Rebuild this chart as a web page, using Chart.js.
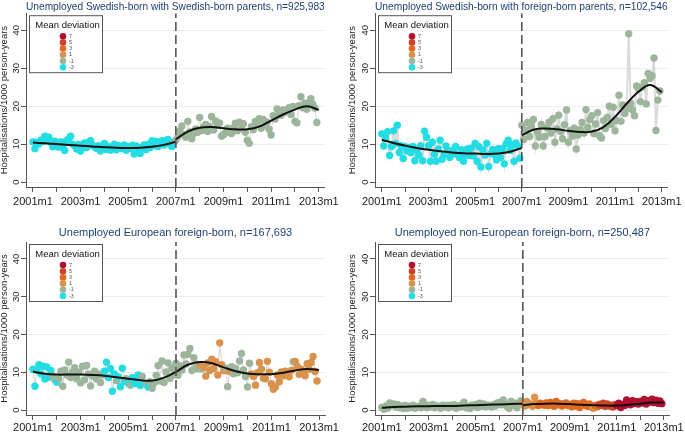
<!DOCTYPE html>
<html>
<head>
<meta charset="utf-8">
<script src="https://cdn.jsdelivr.net/npm/chart.js@4.4.1/dist/chart.umd.min.js"></script>
<style>
  body { margin: 0; background: #fff; width: 685px; height: 432px; overflow: hidden; position: relative; }
  .panel { position: absolute; }
</style>
</head>
<body>
<div class="panel" style="left:0;top:0"><canvas id="c1" width="342" height="216"></canvas></div>
<div class="panel" style="left:343px;top:0"><canvas id="c2" width="342" height="216"></canvas></div>
<div class="panel" style="left:0;top:216px"><canvas id="c3" width="342" height="216"></canvas></div>
<div class="panel" style="left:343px;top:216px"><canvas id="c4" width="342" height="216"></canvas></div>
<script>
// months since 2001m1; labels every 24 months, ticks every 12
const xTickValues = [0, 12, 24, 36, 48, 60, 72, 84, 96, 108, 120, 132, 144];
const xTickLabels = ['2001m1', '', '2003m1', '', '2005m1', '', '2007m1', '', '2009m1', '', '2011m1', '', '2013m1'];
const yTicks = [0, 10, 20, 30, 40];
const breakMonth = 72;

// knots of the fitted curves (every 6 months)
const fitKnotsPre = [0, 6, 12, 18, 24, 30, 36, 42, 48, 54, 60, 66, 72];
const fitKnotsPost = [72, 78, 84, 90, 96, 102, 108, 114, 120, 126, 132, 138, 144];

// mean deviation codes: c=-3 g=-1 t=1 o=3 r=5 m=7
const legendCodes = ['m', 'r', 'o', 't', 'g', 'c'];
const legendLabels = ['7', '5', '3', '1', '-1', '-3'];
const devColors = { c: '#22dde3', g: '#9cb59b', t: '#d9924c', o: '#e0691e', r: '#cc4329', m: '#b30f30' };

// Swedish-born with Swedish-born parents
const title1 = 'Unemployed Swedish-born with Swedish-born parents, n=925,983';
const values1 = [
  10.6, 8.8, 10.5, 10.1, 11.0, 10.7, 12.1, 11.2, 11.8, 10.4, 9.3, 10.8,
  9.5, 9.2, 10.6, 9.4, 8.3, 10.9, 11.4, 12.1, 10.0, 9.6, 8.7, 9.9,
  8.2, 9.4, 10.3, 9.1, 10.5, 10.9, 9.7, 9.3, 8.9, 9.6, 8.2, 9.0,
  10.2, 8.6, 9.4, 8.4, 9.1, 10.0, 8.5, 9.6, 9.2, 8.8, 9.8, 8.4,
  9.3, 8.9, 9.7, 7.4, 9.5, 8.8, 7.5, 9.2, 9.8, 8.6, 9.9, 9.1,
  10.9, 9.6, 10.7, 9.4, 10.4, 10.9, 9.8, 10.2, 11.2, 10.0, 9.4, 10.6,
  11.0, 11.9, 13.5, 14.8, 12.5, 11.8, 16.0, 13.2, 11.4, 12.8, 14.0, 13.1,
  17.0, 13.6, 14.5, 15.2, 13.3, 14.6, 17.3, 13.7, 16.1, 15.0, 15.6, 12.1,
  12.5, 13.0, 14.2, 13.6, 12.8, 14.3, 15.5, 13.5, 15.8, 14.1, 15.4, 13.1,
  11.0, 10.2, 14.6, 13.8, 16.0, 15.3, 16.7, 14.2, 16.5, 15.1, 15.8, 13.9,
  12.4, 17.5, 16.6, 19.3, 18.1, 17.6, 19.0, 18.4, 18.9, 19.6, 17.8, 19.9,
  16.0, 15.6, 20.1, 22.5, 19.6, 20.8, 19.2, 21.0, 22.0, 20.5, 19.5, 15.7
];
const dev1 = ['cccccccccccc', 'cccccccccccc', 'cccccccccccc', 'cccccccccccc', 'cccccccccccc', 'cccccccccccc',
  'gggggggggggg', 'gggggggggggg', 'gggggggggggg', 'gggggggggggg', 'gggggggggggg', 'gggggggggggg'];
const fitPre1 = [10.4, 10.2, 10.0, 9.8, 9.6, 9.4, 9.2, 9.05, 9.0, 9.05, 9.3, 9.8, 10.6];
const fitPost1 = [11.3, 13.3, 14.3, 14.5, 14.2, 13.9, 13.9, 14.6, 16.2, 17.8, 19.1, 20.0, 19.0];

// Swedish-born with foreign-born parents
const title2 = 'Unemployed Swedish-born with foreign-born parents, n=102,546';
const values2 = [
  12.7, 9.5, 11.6, 13.3, 7.0, 9.4, 13.5, 10.2, 15.0, 7.8, 9.6, 6.2,
  9.3, 8.2, 9.1, 7.7, 9.4, 5.6, 8.6, 7.1, 9.6, 5.6, 13.4, 11.8,
  9.6, 5.5, 10.5, 7.3, 5.5, 8.7, 11.0, 6.0, 7.2, 9.5, 8.3, 6.5,
  7.3, 8.6, 9.4, 7.2, 6.4, 8.5, 5.5, 7.2, 8.7, 7.0, 8.9, 6.9,
  10.2, 5.5, 9.3, 4.0, 8.5, 7.1, 10.2, 4.1, 7.5, 8.6, 7.2, 5.8,
  8.8, 6.5, 8.8, 4.8, 10.1, 11.0, 8.3, 9.8, 5.5, 10.3, 9.4, 6.3,
  15.0, 11.2, 13.6, 15.7, 12.0, 14.8, 16.5, 9.5, 13.1, 11.8, 15.2, 9.5,
  12.0, 14.3, 15.8, 12.9, 16.7, 10.5, 14.0, 17.6, 13.3, 11.4, 15.1, 19.0,
  10.5, 13.6, 12.1, 14.2, 8.7, 12.4, 13.8, 15.7, 12.9, 19.1, 14.4, 16.5,
  17.5, 12.8, 15.3, 18.3, 12.2, 11.6, 16.2, 14.1, 17.0, 20.0, 15.2, 19.7,
  13.5, 16.2, 22.9, 16.0, 20.3, 18.1, 19.4, 39.1, 20.7, 19.0, 17.5, 25.3,
  24.6, 21.2, 25.0, 26.2, 20.6, 28.6, 27.3, 28.0, 32.7, 13.6, 21.6, 24.0
];
const dev2 = dev1;
const fitPre2 = [11.1, 10.3, 9.6, 9.0, 8.5, 8.1, 7.8, 7.6, 7.5, 7.4, 7.5, 8.0, 9.0];
const fitPost2 = [12.3, 13.8, 14.1, 13.9, 13.5, 13.2, 13.3, 14.5, 17.2, 20.7, 23.8, 25.6, 23.7];

// European foreign-born
const title3 = 'Unemployed European foreign-born, n=167,693';
const values3 = [
  10.8, 6.3, 10.5, 12.0, 9.6, 11.6, 8.2, 11.4, 8.7, 10.5, 9.0, 8.0,
  7.4, 8.3, 10.3, 6.3, 10.6, 9.3, 12.7, 8.6, 10.1, 11.2, 8.3, 10.0,
  7.2, 11.6, 8.0, 11.8, 9.6, 6.4, 9.0, 10.3, 8.2, 9.6, 7.3, 9.3,
  10.3, 12.7, 8.6, 11.0, 5.0, 9.6, 7.8, 8.8, 6.2, 11.1, 7.6, 8.3,
  7.1, 6.6, 8.6, 7.0, 8.2, 9.3, 6.5, 8.9, 7.0, 6.8, 6.1, 7.5,
  5.8, 7.2, 9.2, 11.8, 7.7, 13.0, 7.3, 10.1, 12.5, 8.4, 11.1, 9.3,
  12.4, 9.2, 11.7, 10.6, 14.6, 12.2, 14.8, 16.3, 10.5, 13.9, 12.2, 10.9,
  11.8, 10.9, 11.3, 9.0, 12.5, 10.5, 13.5, 11.0, 12.8, 9.3, 17.8, 12.0,
  10.4, 11.1, 6.2, 10.2, 11.5, 9.6, 11.0, 9.9, 13.0, 15.0, 10.6, 8.9,
  6.1, 12.4, 9.6, 8.9, 6.6, 9.9, 12.6, 10.8, 8.4, 8.3, 12.9, 10.0,
  7.0, 5.5, 6.1, 9.3, 7.5, 10.1, 9.1, 10.3, 9.2, 8.8, 10.5, 12.8,
  12.9, 11.6, 9.5, 10.8, 10.3, 9.1, 12.3, 10.8, 12.6, 14.2, 10.2, 7.7
];
const dev3 = ['ccccccccccgg', 'cggggggggggg', 'gggggggggggg', 'ccccccgccccg', 'cgcccccgcgcg', 'gggggggggggg',
  'gggggggggggg', 'tgtttttttttt', 'tggtgggggggg', 'ggtttttttttt', 'tttttttttttg', 'tttttttttttt'];
const fitPre3 = [10.2, 9.6, 9.4, 9.4, 9.4, 9.3, 9.1, 8.7, 8.3, 7.9, 7.8, 8.6, 10.1];
const fitPost3 = [10.1, 12.0, 12.7, 12.4, 11.3, 10.3, 9.7, 9.5, 9.5, 9.9, 10.5, 10.9, 10.6];

// non-European foreign-born
const title4 = 'Unemployed non-European foreign-born, n=250,487';
const values4 = [
  0.7, 0.2, 1.0, 0.5, 1.9, 1.3, 1.6, 0.8, 1.5, 0.6, 1.1, 0.4,
  1.2, 0.5, 1.0, 0.7, 1.3, 0.5, 0.9, 1.1, 0.6, 2.3, 1.4, 0.6,
  1.2, 0.9, 1.5, 0.6, 1.1, 1.0, 0.5, 1.3, 0.8, 1.2, 0.6, 1.3,
  0.9, 1.4, 0.5, 1.1, 0.8, 1.5, 2.1, 0.6, 1.0, 0.4, 1.3, 1.0,
  1.5, 0.7, 1.8, 1.1, 1.6, 0.9, 1.3, 1.2, 0.8, 1.4, 1.1, 1.9,
  2.0, 1.4, 2.7, 1.6, 0.9, 0.5, 2.3, 1.3, 1.8, 0.6, 1.6, 2.5,
  1.7, 1.1, 2.3, 1.4, 1.6, 1.0, 3.4, 1.9, 1.2, 1.8, 1.5, 1.3,
  1.9, 1.2, 2.0, 1.5, 1.0, 2.3, 1.4, 1.7, 1.1, 1.6, 1.9, 1.2,
  1.5, 0.9, 1.8, 1.1, 1.7, 0.7, 1.4, 2.0, 1.3, 1.0, 1.6, 0.8,
  0.5, 1.2, 0.9, 1.5, 1.3, 1.8, 1.0, 1.6, 1.1, 1.3, 0.8, 1.4,
  1.2, 1.8, 0.7, 1.5, 1.2, 2.7, 1.9, 1.4, 2.5, 1.8, 2.2, 1.6,
  2.3, 1.9, 2.8, 1.6, 2.5, 2.1, 2.9, 2.0, 2.6, 1.8, 2.4, 1.7
];
const dev4 = ['gggggggggggg', 'gggggggggggg', 'gggggggggggg', 'gggggggggggg', 'gggggggggggg', 'gggggggggggg',
  'ttttttttoooo', 'oooooooooooo', 'oooooooooooo', 'toorrrrrrrrr', 'mmmmmmmmmmmm', 'mmmmmmmmmmmm'];
const fitPre4 = [0.6, 0.8, 0.9, 1.0, 1.0, 1.1, 1.1, 1.2, 1.3, 1.4, 1.5, 1.6, 1.7];
const fitPost4 = [1.3, 1.6, 1.7, 1.7, 1.6, 1.4, 1.3, 1.2, 1.2, 1.4, 1.7, 2.0, 2.0];

const Y_MIN = -1.3, Y_MAX = 44.5;
Chart.defaults.font.family = '"Liberation Sans", Arial, sans-serif';

const devLegend = {
  id: 'devLegend',
  afterDraw(chart) {
    const a = chart.chartArea, c = chart.ctx;
    const x = a.left + 3, y = a.top + 2, w = 73, h = 57;
    c.save();
    c.fillStyle = '#fff';
    c.fillRect(x, y, w, h);
    c.strokeStyle = '#555';
    c.lineWidth = 1;
    c.strokeRect(x + 0.5, y + 0.5, w, h);
    c.fillStyle = '#111';
    c.font = '9.5px "Liberation Sans", Arial, sans-serif';
    c.textAlign = 'center';
    c.textBaseline = 'middle';
    c.fillText('Mean deviation', x + w / 2 + 2, y + 10);
    legendCodes.forEach((k, i) => {
      const yy = y + 21 + i * 6.2;
      c.fillStyle = devColors[k];
      c.beginPath();
      c.arc(x + 34, yy, 3.3, 0, Math.PI * 2);
      c.fill();
      c.fillStyle = '#555';
      c.font = '5.5px "Liberation Sans", Arial, sans-serif';
      c.textAlign = 'left';
      c.fillText(legendLabels[i], x + 40, yy);
    });
    c.restore();
  }
};

function makePanel(id, o) {
  const devs = o.dev.join('').split('');
  new Chart(document.getElementById(id), {
    type: 'line',
    data: {
      datasets: [
        {
          data: [{ x: breakMonth, y: Y_MIN }, { x: breakMonth, y: Y_MAX }],
          borderColor: '#555', borderWidth: 1.6, borderDash: [9, 4], pointRadius: 0
        },
        {
          data: o.fitPre.map((v, i) => ({ x: fitKnotsPre[i], y: v })),
          borderColor: '#111', borderWidth: 2, tension: 0.4, pointRadius: 0
        },
        {
          data: o.fitPost.map((v, i) => ({ x: fitKnotsPost[i], y: v })),
          borderColor: '#111', borderWidth: 2, tension: 0.4, pointRadius: 0
        },
        {
          data: o.values.map((v, i) => ({ x: i, y: v })),
          borderColor: o.lineColor, borderWidth: o.lineWidth, tension: 0,
          pointRadius: 3.7, pointBorderWidth: 0,
          pointBackgroundColor: devs.map(k => devColors[k])
        }
      ]
    },
    options: {
      responsive: false,
      animation: false,
      devicePixelRatio: 1,
      layout: { padding: { left: 0, right: o.padRight, top: 0, bottom: 0 } },
      plugins: {
        legend: { display: false },
        tooltip: { enabled: false },
        title: {
          display: true, text: o.title, color: '#1f3f73', fullSize: false,
          font: { size: 11, weight: 'normal' },
          padding: { top: o.titleTop, bottom: o.titleBottom }
        }
      },
      scales: {
        x: {
          type: 'linear', min: -3.5, max: 147,
          afterBuildTicks: s => { s.ticks = xTickValues.map(v => ({ value: v })); },
          afterFit: s => { s.height = o.xHeight; },
          ticks: {
            callback: v => xTickLabels[xTickValues.indexOf(v)],
            color: '#1a1a1a', font: { size: 11 }, padding: o.tickPad, maxRotation: 0, autoSkip: false
          },
          grid: { drawOnChartArea: false, tickLength: 5, color: '#555', tickColor: '#555' },
          border: { display: true, color: '#555', width: 1 }
        },
        y: {
          min: Y_MIN, max: Y_MAX,
          afterBuildTicks: s => { s.ticks = yTicks.map(v => ({ value: v })); },
          afterFit: s => { s.width = o.yWidth; },
          ticks: { minRotation: 90, maxRotation: 90, crossAlign: 'center', padding: -1, color: '#222', font: { size: 9.5 } },
          grid: { color: '#e6eff1', tickColor: '#555', tickLength: 5 },
          border: { display: true, color: '#555', width: 1 },
          title: {
            display: true, text: 'Hospitalisations/1000 person-years',
            color: '#222', font: { size: 9.5 }, padding: { top: o.yTitlePad, bottom: 0 }
          }
        }
      }
    },
    plugins: [devLegend]
  });
}

makePanel('c1', { title: title1, values: values1, dev: dev1, fitPre: fitPre1, fitPost: fitPost1,
  lineColor: '#d4d4d4', lineWidth: 1,
  yWidth: 26, xHeight: 29, padRight: 17, titleTop: 0, titleBottom: 0, tickPad: 3, yTitlePad: -1 });
makePanel('c2', { title: title2, values: values2, dev: dev2, fitPre: fitPre2, fitPost: fitPost2,
  lineColor: '#dadada', lineWidth: 2,
  yWidth: 32, xHeight: 29, padRight: 11, titleTop: 0, titleBottom: 0, tickPad: 3, yTitlePad: 4 });
makePanel('c3', { title: title3, values: values3, dev: dev3, fitPre: fitPre3, fitPost: fitPost3,
  lineColor: '#d4d4d4', lineWidth: 1,
  yWidth: 26, xHeight: 17, padRight: 17, titleTop: 10, titleBottom: 2.8, tickPad: 1, yTitlePad: -1 });
makePanel('c4', { title: title4, values: values4, dev: dev4, fitPre: fitPre4, fitPost: fitPost4,
  lineColor: '#d4d4d4', lineWidth: 1,
  yWidth: 32, xHeight: 17, padRight: 11, titleTop: 10, titleBottom: 2.8, tickPad: 1, yTitlePad: 4 });
</script>
</body>
</html>
